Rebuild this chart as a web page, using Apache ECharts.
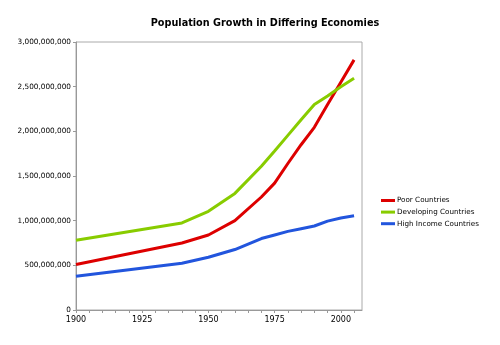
<!DOCTYPE html>
<html><head><meta charset="utf-8">
<script src="https://cdn.jsdelivr.net/npm/echarts@6/dist/echarts.min.js"></script>
<style>html,body{margin:0;padding:0;background:#fff}#c{width:500px;height:345px}</style>
</head><body><div id="c"></div>
<script>
var years = [1900, 1940, 1950, 1960, 1970, 1975, 1980, 1985, 1990, 1995, 2000, 2005];
var poor = [510e6, 750e6, 840e6, 1000e6, 1265e6, 1420e6, 1640e6, 1850e6, 2045e6, 2300e6, 2550e6, 2800e6];
var developing = [780e6, 975e6, 1105e6, 1305e6, 1610e6, 1780e6, 1955e6, 2130e6, 2300e6, 2395e6, 2500e6, 2595e6];
var highIncome = [378e6, 523e6, 590e6, 677e6, 800e6, 840e6, 880e6, 910e6, 940e6, 995e6, 1030e6, 1055e6];
var seriesNames = ['Poor Countries', 'Developing Countries', 'High Income Countries'];
var xTickLabels = [1900, 1925, 1950, 1975, 2000];

function pairs(v){ return years.map(function(y,i){ return [y, v[i]]; }); }
var chart = echarts.init(document.getElementById('c'));
var font = 'DejaVu Sans';
chart.setOption({
  animation: false,
  title: { text: 'Population Growth in Differing Economies', left: 260, textAlign: 'center', top: 13,
    textStyle: { fontFamily: font, fontWeight: 'bold', fontSize: 9.7, color: '#000' } },
  grid: { left: 76, right: 138, top: 42, bottom: 35, show: true, borderColor: '#aaa', borderWidth: 1 },
  legend: { orient: 'vertical', left: 376, top: 192, itemWidth: 14, itemHeight: 3, itemGap: 4.6, icon: 'rect',
    textStyle: { fontFamily: font, fontSize: 7.2, color: '#000', padding: [0,0,0,-3] },
    data: seriesNames },
  xAxis: { type: 'value', min: 1900, max: 2008, interval: 5,
    axisLine: { lineStyle: { color: '#999' } },
    axisTick: { length: 3, lineStyle: { color: '#999' } },
    splitLine: { show: false },
    axisLabel: { fontFamily: font, fontSize: 8, color: '#000', margin: 6, showMaxLabel: false,
      formatter: function(v){ return xTickLabels.indexOf(v) >= 0 ? String(v) : ''; } } },
  yAxis: { type: 'value', min: 0, max: 3e9, interval: 5e8,
    axisLine: { show: true, lineStyle: { color: '#999' } },
    axisTick: { show: true, length: 3, lineStyle: { color: '#999' } },
    splitLine: { show: false },
    axisLabel: { fontFamily: font, fontSize: 7.3, color: '#000', margin: 5,
      formatter: function(v){ return v.toLocaleString('en-US'); } } },
  series: [
    { name: seriesNames[0], type: 'line', data: pairs(poor), showSymbol: false, symbol: 'none', color: '#dd0000', lineStyle: { width: 3 } },
    { name: seriesNames[1], type: 'line', data: pairs(developing), showSymbol: false, symbol: 'none', color: '#88cc00', lineStyle: { width: 3 } },
    { name: seriesNames[2], type: 'line', data: pairs(highIncome), showSymbol: false, symbol: 'none', color: '#2255dd', lineStyle: { width: 3 } }
  ]
});
</script></body></html>
